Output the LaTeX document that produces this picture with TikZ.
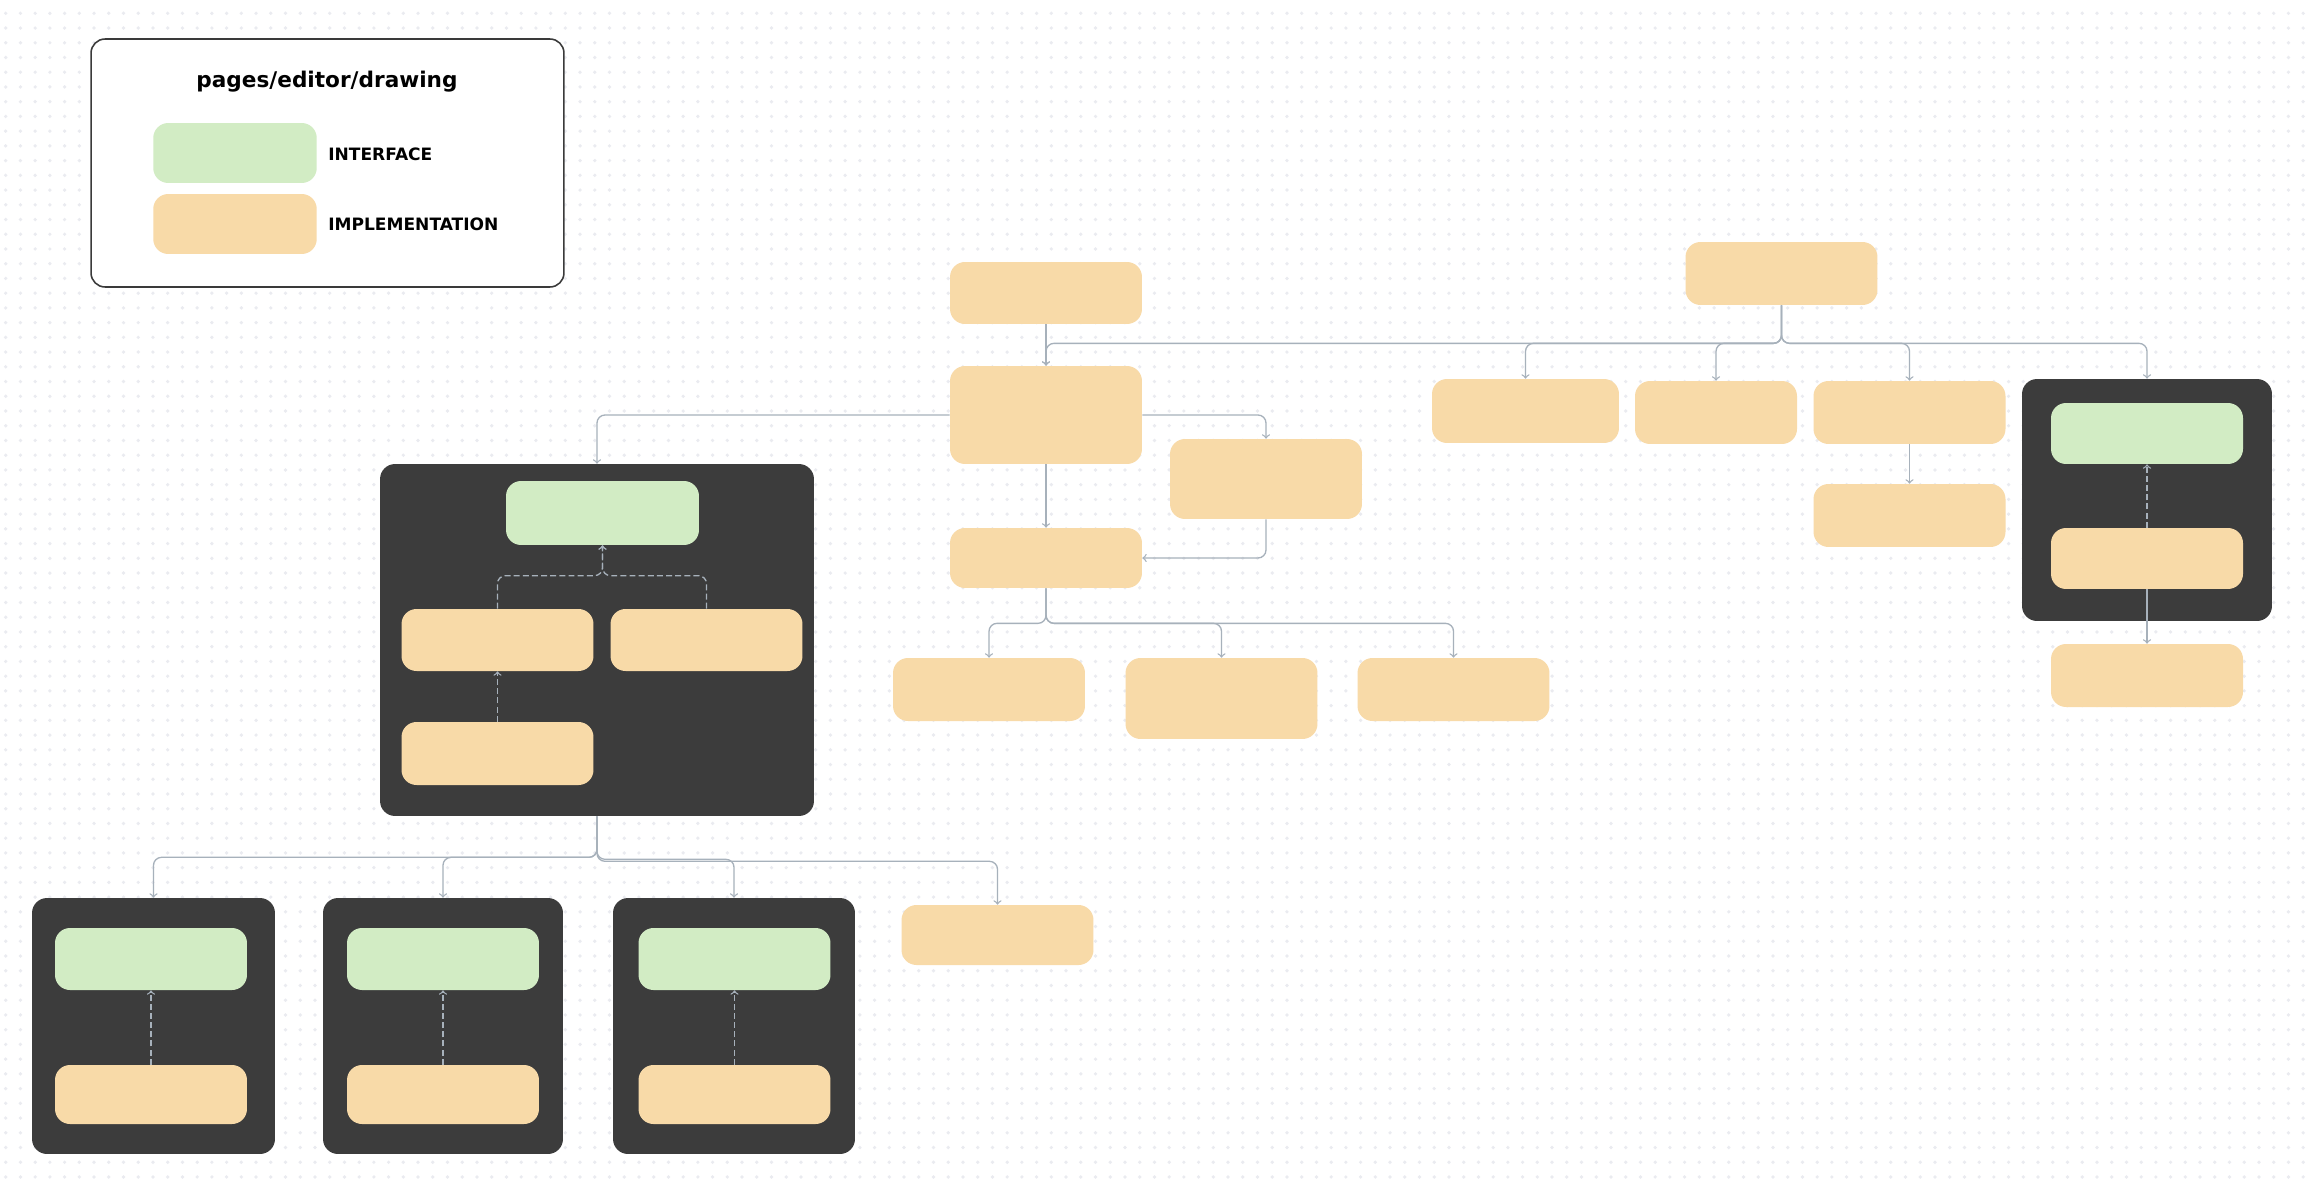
\documentclass[tikz,border=0pt]{standalone}
\usepackage{fontspec}
\setmainfont{DejaVu Sans}
\definecolor{dotgray}{HTML}{EAEBF0}
\definecolor{linkgray}{HTML}{A7B1BB}
\definecolor{ifacegreen}{HTML}{D2ECC4}
\definecolor{implorange}{HTML}{F8DAA8}
\definecolor{boxdark}{HTML}{3C3C3C}
\definecolor{legendline}{HTML}{3A3A3A}

\begin{document}
\begin{tikzpicture}[x=0.02cm, y=-0.02cm,
        impl/.style={fill=implorange, rounded corners=0.3cm, minimum width=3.84cm, minimum height=1.24cm, inner sep=0pt},
        iface/.style={impl, fill=ifacegreen},
        group/.style={fill=boxdark, rounded corners=0.3cm, inner sep=0pt},
        link/.style={->, linkgray, line width=0.75pt, rounded corners=0.16cm},
        uses/.style={link, dash pattern=on 3.4pt off 1.8pt},
        dotrow/.style={dotgray, line width=0.074cm, line cap=round, dash pattern=on 0pt off 0.2946cm}]
        \fill[white] (0,0) rectangle (2310,1190);
        \useasboundingbox (0,0) rectangle (2310,1190);
        \foreach \j in {0,...,79} {\draw[dotrow] (5.7,13.3+14.73*\j) -- (2310,13.3+14.73*\j);}

        \node[draw=legendline, fill=white, line width=0.9pt, rounded corners=0.28cm, minimum width=9.46cm, minimum height=4.96cm] (legend) at (327.5,163) {};
        \node[font=\bfseries\fontsize{12.3}{15}\selectfont, anchor=base, inner sep=0pt] (title) at (327,87) {pages/editor/drawing};
        \node[iface, minimum width=3.27cm, minimum height=1.2cm] (keyiface) at (235,153) {};
        \node[impl, minimum width=3.27cm, minimum height=1.2cm] (keyimpl) at (235,224) {};
        \node[font=\bfseries\fontsize{9.7}{12}\selectfont, anchor=base west, inner sep=0pt] (keyifacetext) at (328,160) {INTERFACE};
        \node[font=\bfseries\fontsize{9.7}{12}\selectfont, anchor=base west, inner sep=0pt] (keyimpltext) at (328,230) {IMPLEMENTATION};

        \node[impl] (a1) at (1046,293) {};
        \node[impl, minimum height=1.96cm] (a2) at (1046,415) {};
        \node[impl, minimum height=1.6cm] (a3) at (1266,479) {};
        \node[impl, minimum height=1.2cm] (a4) at (1046,558) {};
        \node[impl, minimum height=1.26cm] (b1) at (989,689.5) {};
        \node[impl, minimum height=1.62cm] (b2) at (1221.5,698.5) {};
        \node[impl, minimum height=1.26cm] (b3) at (1453.5,689.5) {};

        \node[impl, minimum height=1.26cm] (r0) at (1781.5,273.5) {};
        \node[impl, minimum width=3.74cm, minimum height=1.28cm] (r1) at (1525.5,411) {};
        \node[impl, minimum width=3.24cm, minimum height=1.26cm] (r2) at (1716,412.5) {};
        \node[impl, minimum height=1.26cm] (r3) at (1909.5,412.5) {};
        \node[impl, minimum height=1.26cm] (r4) at (1909.5,515.5) {};
        \node[group, minimum width=5cm, minimum height=4.84cm] (rc) at (2147,500) {};
        \node[iface, minimum height=1.22cm] (rcg) at (2147,433.5) {};
        \node[impl, minimum height=1.22cm] (rco) at (2147,558.5) {};
        \node[impl, minimum height=1.26cm] (r5) at (2147,675.5) {};

        \node[group, minimum width=8.68cm, minimum height=7.04cm] (c1) at (597,640) {};
        \node[iface, minimum width=3.86cm, minimum height=1.28cm] (c1g) at (602.5,513) {};
        \node[impl] (c1o1) at (497.5,640) {};
        \node[impl] (c1o2) at (706.5,640) {};
        \node[impl, minimum height=1.26cm] (c1o3) at (497.5,753.5) {};

        \node[group, minimum width=4.86cm, minimum height=5.12cm] (d1) at (153.5,1026) {};
        \node[iface] (d1g) at (151,959) {};
        \node[impl, minimum height=1.18cm] (d1o) at (151,1094.5) {};
        \node[group, minimum width=4.8cm, minimum height=5.12cm] (d2) at (443,1026) {};
        \node[iface] (d2g) at (443,959) {};
        \node[impl, minimum height=1.18cm] (d2o) at (443,1094.5) {};
        \node[group, minimum width=4.84cm, minimum height=5.12cm] (d3) at (734,1026) {};
        \node[iface] (d3g) at (734.5,959) {};
        \node[impl, minimum height=1.18cm] (d3o) at (734.5,1094.5) {};
        \node[impl, minimum height=1.2cm] (d4) at (997.5,935) {};

        \draw[link] (a1) -- (a2);
        \draw[link] (r0.south) -- ++(0,38) -| (a2.north);
        \draw[link] (r0.south) -- ++(0,38) -| (r1.north);
        \draw[link] (r0.south) -- ++(0,38) -| (r2.north);
        \draw[link] (r0.south) -- ++(0,38) -| (r3.north);
        \draw[link] (r0.south) -- ++(0,38) -| (rc.north);
        \draw[link] (a2.west) -| (c1.north);
        \draw[link] (a2.east) -| (a3.north);
        \draw[link] (a2) -- (a4);
        \draw[link] (a3.south) |- (a4.east);
        \draw[link] (a4.south) -- ++(0,35) -| (b1.north);
        \draw[link] (a4.south) -- ++(0,35) -| (b2.north);
        \draw[link] (a4.south) -- ++(0,35) -| (b3.north);
        \draw[link] (r3) -- (r4);
        \draw[uses] (rco) -- (rcg);
        \draw[link] (rco) -- (r5);
        \draw[uses] (c1o1.north) -- ++(0,-33) -| (c1g.south);
        \draw[uses] (c1o2.north) -- ++(0,-33) -| (c1g.south);
        \draw[uses] (c1o3) -- (c1o1);
        \draw[link] (c1.south) -- ++(0,41) -| (d1.north);
        \draw[link] (c1.south) -- ++(0,41) -| (d2.north);
        \draw[link] (c1.south) -- ++(0,43) -| (d3.north);
        \draw[link] (c1.south) -- ++(0,45) -| (d4.north);
        \draw[uses] (d1o) -- (d1g);
        \draw[uses] (d2o) -- (d2g);
        \draw[uses] (d3o) -- (d3g);
    \end{tikzpicture}
\end{document}
